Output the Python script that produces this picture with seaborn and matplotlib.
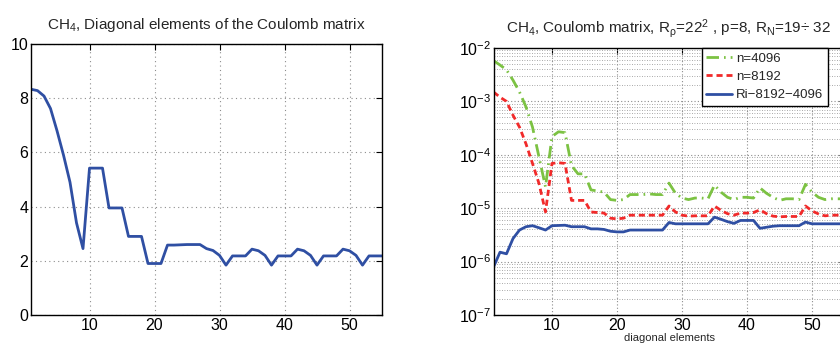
import numpy as np
import pandas as pd
import matplotlib
matplotlib.use("Agg")
import matplotlib.pyplot as plt
import seaborn as sns
from matplotlib.ticker import (LogLocator, LogFormatterMathtext, NullFormatter,
                               FixedLocator)

# ---------------------------------------------------------------- data
element = list(range(1, 56))

coulomb_diag = [
    8.33, 8.28, 8.08, 7.62, 6.80, 5.90, 4.90, 3.40, 2.45, 5.42,
    5.42, 5.42, 3.95, 3.95, 3.95, 2.90, 2.90, 2.90, 1.90, 1.90,
    1.90, 2.58, 2.58, 2.59, 2.60, 2.60, 2.60, 2.45, 2.38, 2.20,
    1.84, 2.18, 2.18, 2.18, 2.43, 2.37, 2.20, 1.84, 2.18, 2.18,
    2.18, 2.43, 2.37, 2.20, 1.84, 2.18, 2.18, 2.18, 2.43, 2.37,
    2.20, 1.84, 2.18, 2.18, 2.18,
]

err_n4096 = [
    5.8e-3, 4.8e-3, 3.9e-3, 2.5e-3, 1.5e-3, 7.9e-4, 3.3e-4, 9.1e-5, 2.5e-5, 2.2e-4,
    2.7e-4, 2.6e-4, 6.3e-5, 4.4e-5, 4.4e-5, 2.2e-5, 2.1e-5, 2.0e-5, 1.45e-5, 1.4e-5,
    1.45e-5, 1.8e-5, 1.8e-5, 1.8e-5, 1.85e-5, 1.8e-5, 1.8e-5, 2.95e-5, 1.9e-5, 1.55e-5,
    1.45e-5, 1.55e-5, 1.55e-5, 1.5e-5, 2.7e-5, 2.0e-5, 1.6e-5, 1.45e-5, 1.6e-5, 1.6e-5,
    1.55e-5, 2.4e-5, 1.9e-5, 1.6e-5, 1.4e-5, 1.5e-5, 1.5e-5, 1.45e-5, 2.8e-5, 2.0e-5,
    1.6e-5, 1.45e-5, 1.5e-5, 1.5e-5, 1.5e-5,
]

err_n8192 = [
    1.5e-3, 1.2e-3, 1.0e-3, 5.5e-4, 3.3e-4, 1.6e-4, 6.9e-5, 2.9e-5, 8.5e-6, 6.9e-5,
    7.1e-5, 6.9e-5, 1.4e-5, 1.4e-5, 1.4e-5, 8.5e-6, 8.3e-6, 8.1e-6, 6.5e-6, 6.3e-6,
    6.5e-6, 7.4e-6, 7.4e-6, 7.4e-6, 7.4e-6, 7.4e-6, 7.4e-6, 1.1e-5, 8.5e-6, 7.4e-6,
    7.1e-6, 7.2e-6, 7.2e-6, 7.2e-6, 1.1e-5, 9.1e-6, 7.9e-6, 7.4e-6, 8.1e-6, 8.1e-6,
    8.3e-6, 9.3e-6, 7.9e-6, 7.1e-6, 6.9e-6, 7.0e-6, 7.0e-6, 7.0e-6, 1.1e-5, 8.9e-6,
    7.8e-6, 7.2e-6, 7.4e-6, 7.4e-6, 7.4e-6,
]

err_richardson = [
    7.9e-7, 1.5e-6, 1.4e-6, 2.7e-6, 3.9e-6, 4.5e-6, 4.7e-6, 4.3e-6, 3.9e-6, 4.7e-6,
    4.75e-6, 4.8e-6, 4.5e-6, 4.5e-6, 4.5e-6, 4.1e-6, 4.1e-6, 4.0e-6, 3.7e-6, 3.6e-6,
    3.6e-6, 3.9e-6, 3.9e-6, 3.9e-6, 3.9e-6, 3.9e-6, 3.9e-6, 5.4e-6, 5.1e-6, 5.1e-6,
    5.1e-6, 5.1e-6, 5.1e-6, 5.1e-6, 6.8e-6, 6.2e-6, 5.6e-6, 5.2e-6, 5.9e-6, 5.9e-6,
    5.9e-6, 4.2e-6, 4.4e-6, 4.6e-6, 4.7e-6, 4.7e-6, 4.7e-6, 4.7e-6, 5.5e-6, 5.1e-6,
    5.1e-6, 5.1e-6, 5.1e-6, 5.1e-6, 5.1e-6,
]

series_labels = ["n=4096", "n=8192", "Ri\u22128192\u22124096"]

left_title = "CH$_\\mathregular{4}$, Diagonal elements of the Coulomb matrix"
right_title = ("CH$_\\mathregular{4}$, Coulomb matrix, R$_\\mathregular{\u03c1}$=22$^\\mathregular{2}$ , "
               "p=8, R$_\\mathregular{N}$=19\u00f7 32")
right_xlabel = "diagonal elements"

# ---------------------------------------------------------------- style
sns.set_style("white")
plt.rcParams["font.family"] = ["Liberation Sans", "DejaVu Sans"]
plt.rcParams["mathtext.fontset"] = "custom"
plt.rcParams["mathtext.rm"] = "Liberation Sans"
plt.rcParams["mathtext.it"] = "Liberation Sans:italic"
plt.rcParams["mathtext.bf"] = "Liberation Sans:bold"
plt.rcParams["axes.linewidth"] = 1.0

BLUE = "#2f4fa3"
RED = "#f12a2a"
GREEN = "#7cc243"
GRID = "#8c8c8c"

W, H = 840, 343
fig = plt.figure(figsize=(W / 100, H / 100), dpi=100)


def px_axes(left, top, right, bottom):
    return fig.add_axes([left / W, 1 - bottom / H, (right - left) / W, (bottom - top) / H])


def matlab_ticks(ax):
    ax.tick_params(axis="both", which="both", direction="in", top=True, right=True,
                   labelsize=11.5, colors="black", pad=1.8)
    ax.tick_params(which="major", length=4, width=0.8)
    ax.tick_params(which="minor", length=2, width=0.6)
    for s in ax.spines.values():
        s.set_color("black")
        s.set_visible(True)


# ---------------------------------------------------------------- left panel
ax1 = px_axes(31, 44, 382, 315)
df_diag = pd.DataFrame({"element": element, "value": coulomb_diag})
sns.lineplot(data=df_diag, x="element", y="value", ax=ax1, color=BLUE, linewidth=2.0)
ax1.set_xlim(1, 55)
ax1.set_ylim(0, 10)
ax1.xaxis.set_major_locator(FixedLocator([10, 20, 30, 40, 50]))
ax1.yaxis.set_major_locator(FixedLocator([0, 2, 4, 6, 8, 10]))
ax1.grid(True, which="major", linestyle=(0, (1, 3)), color=GRID, linewidth=0.8)
ax1.set_xlabel("")
ax1.set_ylabel("")
matlab_ticks(ax1)
ax1.set_title(left_title, fontsize=11, pad=11)

# ---------------------------------------------------------------- right panel
ax2 = px_axes(493.5, 48, 844.5, 315)
df_err = pd.DataFrame({
    "element": element * 3,
    "error": err_n4096 + err_n8192 + err_richardson,
    "series": [series_labels[0]] * 55 + [series_labels[1]] * 55 + [series_labels[2]] * 55,
})
styles = {
    series_labels[0]: dict(color=GREEN, ls=(0, (4.5, 1.8, 0.6, 1.8)), lw=2.0),
    series_labels[1]: dict(color=RED, ls=(0, (2.2, 1.4)), lw=2.0),
    series_labels[2]: dict(color=BLUE, ls="-", lw=2.0),
}
for name in series_labels:
    st = styles[name]
    sns.lineplot(data=df_err[df_err["series"] == name], x="element", y="error", ax=ax2,
                 color=st["color"], linestyle=st["ls"], linewidth=st["lw"], label=name)

ax2.set_yscale("log")
ax2.set_xlim(1, 55)
ax2.set_ylim(1e-7, 1e-2)
ax2.xaxis.set_major_locator(FixedLocator([10, 20, 30, 40, 50]))
ax2.yaxis.set_major_locator(LogLocator(base=10, numticks=10))
ax2.yaxis.set_major_formatter(LogFormatterMathtext())
ax2.yaxis.set_minor_locator(LogLocator(base=10, subs=np.arange(2, 10), numticks=20))
ax2.yaxis.set_minor_formatter(NullFormatter())
ax2.grid(True, which="major", axis="both", linestyle=(0, (1, 2)), color=GRID, linewidth=0.8)
ax2.grid(True, which="minor", axis="y", linestyle=(0, (1, 2)), color=GRID, linewidth=0.6)
ax2.set_ylabel("")
ax2.set_xlabel(right_xlabel, fontsize=8)
ax2.xaxis.label.set_verticalalignment("bottom")
ax2.xaxis.set_label_coords(0.5, (315 - 343) / 267)
matlab_ticks(ax2)
ax2.set_title(right_title, fontsize=11, pad=11)

leg = ax2.legend(loc="upper right", bbox_to_anchor=(1 - 16.5 / 351, 1.0),
                 borderaxespad=0, frameon=True, fancybox=False, fontsize=9.5,
                 handlelength=1.9, handletextpad=0.35, labelspacing=0.45,
                 borderpad=0.35)
leg.get_frame().set_edgecolor("black")
leg.get_frame().set_linewidth(1.0)
leg.get_frame().set_alpha(1.0)

fig.savefig("out.png", dpi=100)
